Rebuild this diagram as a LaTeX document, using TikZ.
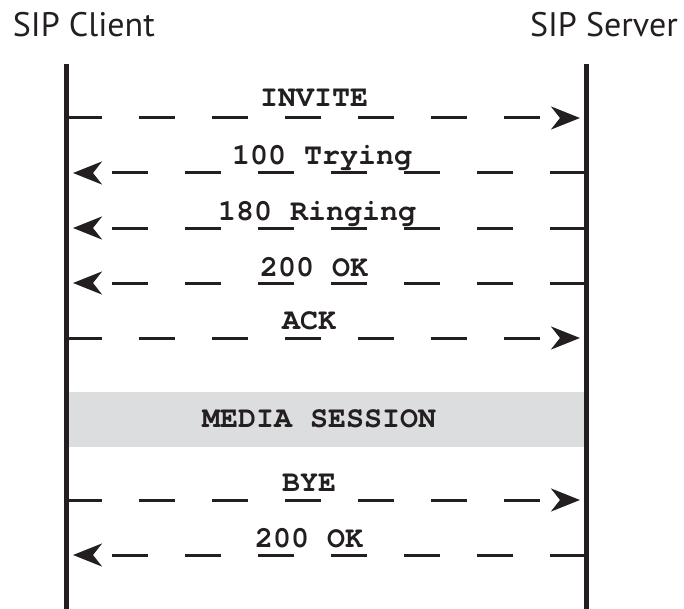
\documentclass[tikz,border=0pt]{standalone}
\usepackage{fontspec}
\setmainfont{PT Sans}
\newfontfamily\msgfont{TeX Gyre Cursor}
\usetikzlibrary{arrows.meta}
\definecolor{ink}{HTML}{231F20}
\definecolor{bandgray}{HTML}{DCDDDE}
\tikzset{
  lifeline/.style={draw=ink, line width=5bp},
  msgline/.style={draw=ink, line width=3bp, dash pattern=on 36bp off 37bp,
    -{Stealth[length=29bp, width=23bp, inset=9bp]}},
  tomsg/.style={msgline, shorten >=6bp},
  backmsg/.style={msgline, shorten >=7bp},
  party/.style={font=\fontsize{34bp}{40bp}\selectfont, text=ink, inner sep=0pt},
  msglabel/.style={font=\fontsize{30bp}{36bp}\selectfont\msgfont\bfseries, text=ink,
    inner sep=0pt, anchor=base west},
}
\begin{document}
\begin{tikzpicture}[x=1bp, y=-1bp]
  \useasboundingbox (0,0) rectangle (684,609);

  % participants
  \node[party, anchor=base west] (client) at (12.7,36.7) {SIP Client};
  \node[party, anchor=base east] (server) at (678,36.7) {SIP Server};

  % lifeline end points
  \coordinate (cTop) at (66,64);   \coordinate (cBot) at (66,609);
  \coordinate (sTop) at (586,64);  \coordinate (sBot) at (586,609);

  % media session band between the lifelines
  \fill[bandgray] (68,392) rectangle (584,446.5);
  \node[msglabel] (media) at (202,427) {MEDIA SESSION};

  % lifelines
  \draw[lifeline] (cTop) -- (cBot);
  \draw[lifeline] (sTop) -- (sBot);

  % message end points on each lifeline
  \foreach \name/\y in {invite/118, trying/173, ringing/228, ok/283, ack/338, bye/500, byeok/555} {
    \coordinate (c-\name) at (66,\y);
    \coordinate (s-\name) at (586,\y);
  }

  % messages
  \draw[tomsg]   (c-invite)  -- (s-invite);
  \draw[backmsg] (s-trying)  -- (c-trying);
  \draw[backmsg] (s-ringing) -- (c-ringing);
  \draw[backmsg] (s-ok)      -- (c-ok);
  \draw[tomsg]   (c-ack)     -- (s-ack);
  \draw[tomsg]   (c-bye)     -- (s-bye);
  \draw[backmsg] (s-byeok)   -- (c-byeok);

  % message labels
  \node[msglabel] (lInvite)  at (260,107)   {INVITE};
  \node[msglabel] (lTrying)  at (232,165)   {100 Trying};
  \node[msglabel] (lRinging) at (218,220)   {180 Ringing};
  \node[msglabel] (lOk)      at (260,276)   {200 OK};
  \node[msglabel] (lAck)     at (282,329)   {ACK};
  \node[msglabel] (lBye)     at (282,491)   {BYE};
  \node[msglabel] (lByeOk)   at (255,547)   {200 OK};
\end{tikzpicture}
\end{document}
